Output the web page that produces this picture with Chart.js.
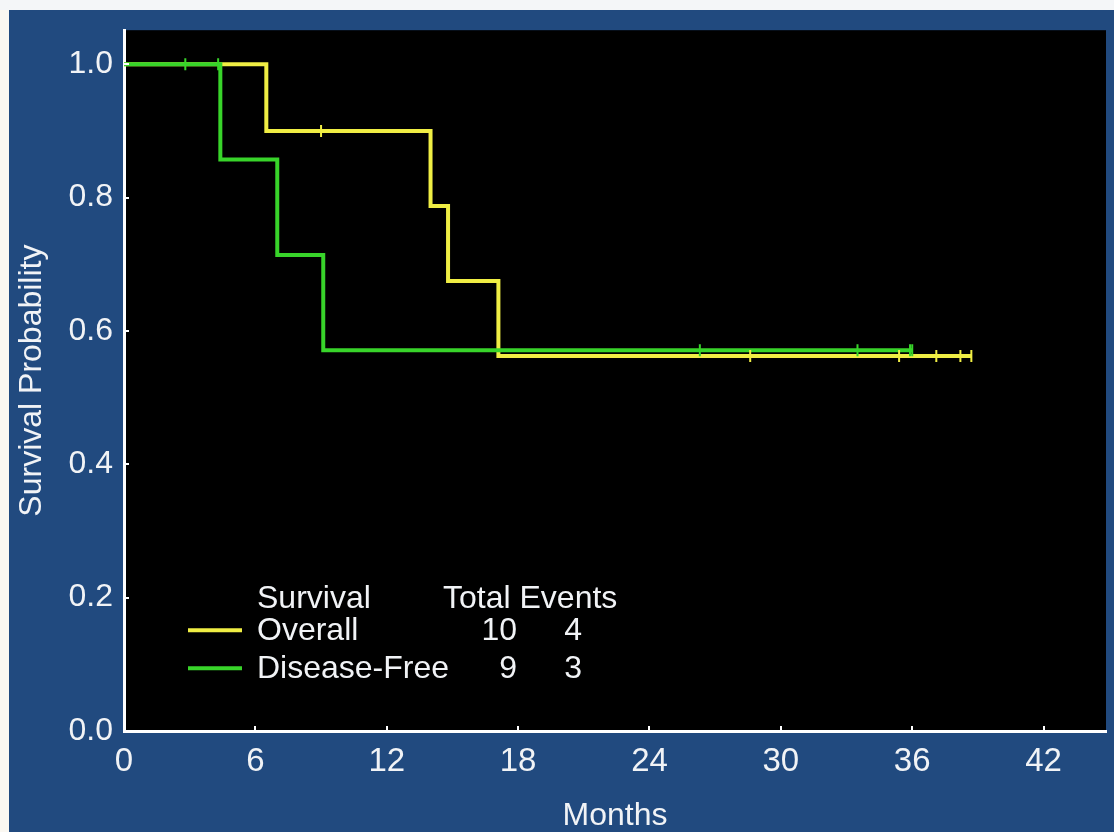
<!DOCTYPE html>
<html>
<head>
<meta charset="utf-8">
<title>Survival Probability</title>
<script src="https://cdn.jsdelivr.net/npm/chart.js@4.4.1/dist/chart.umd.min.js"></script>
<style>
  html, body { margin: 0; padding: 0; background: #fbf8f2; }
  canvas { display: block; }
</style>
</head>
<body>
<canvas id="km" width="1114" height="832"></canvas>
<script>
// Kaplan-Meier step data (months, survival probability after each event)
const overallTimes    = [0, 6.5, 14.0, 14.8, 17.1, 38.7];
const overallSurvival = [1.0, 0.9, 0.7875, 0.675, 0.5625, 0.5625];
const overallCensored = [9.0, 28.6, 35.4, 37.1, 38.2, 38.7];

const dfsTimes    = [0, 4.4, 7.0, 9.1, 36.0];
const dfsSurvival = [1.0, 0.857, 0.714, 0.571, 0.571];
const dfsCensored = [2.8, 4.3, 26.3, 33.5, 35.9, 36.0];

const xTickValues = [0, 6, 12, 18, 24, 30, 36, 42];
const yTickValues = [0, 0.2, 0.4, 0.6, 0.8, 1.0];

const legendHeaders = ['Survival', 'Total Events'];
const seriesNames   = ['Overall', 'Disease-Free'];
const seriesTotals  = [10, 9];
const seriesEvents  = [4, 3];

const YELLOW = '#f0ee44';
const GREEN  = '#38d42a';
const TEXT   = '#f1f3f6';
const FONT   = '"Liberation Sans", Arial, sans-serif';

const toPoints = (xs, ys) => xs.map((x, i) => ({ x, y: ys[i] }));

// survival value in effect at time t (last step at or before t)
function stepValue(xs, ys, t) {
  let v = ys[0];
  for (let i = 0; i < xs.length; i++) if (xs[i] <= t) v = ys[i];
  return v;
}
const censorPoints = (cs, xs, ys) => cs.map(t => ({ x: t, y: stepValue(xs, ys, t) }));

const panelBackground = {
  id: 'panelBackground',
  beforeDraw(chart) {
    const { ctx, width, height, chartArea: a } = chart;
    ctx.save();
    ctx.fillStyle = '#fbf8f2';
    ctx.fillRect(0, 0, width, height);
    ctx.fillStyle = '#f4f6f8';
    ctx.fillRect(0, 0, width, 10);
    ctx.fillStyle = '#214a7f';
    ctx.fillRect(9, 10, width - 9, height - 10);
    ctx.fillStyle = '#000000';
    ctx.fillRect(a.left, a.top, a.right - a.left, a.bottom - a.top);
    ctx.restore();
  }
};

const innerTicks = {
  id: 'innerTicks',
  afterDraw(chart) {
    const { ctx, chartArea: a, scales: { x, y } } = chart;
    ctx.save();
    ctx.strokeStyle = '#ffffff';
    ctx.lineWidth = 2;
    ctx.beginPath();
    xTickValues.forEach(v => {
      const px = Math.round(x.getPixelForValue(v));
      ctx.moveTo(px, a.bottom);
      ctx.lineTo(px, a.bottom - 5);
    });
    yTickValues.forEach(v => {
      const py = Math.round(y.getPixelForValue(v));
      ctx.moveTo(a.left, py);
      ctx.lineTo(a.left + 5, py);
    });
    ctx.stroke();
    ctx.restore();
  }
};

const tableLegend = {
  id: 'tableLegend',
  afterDraw(chart) {
    const { ctx, chartArea: a } = chart;
    const colors = [YELLOW, GREEN];
    const nameX = a.left + 133;
    const totalX = a.left + 393;
    const eventX = a.left + 458;
    const lineX0 = a.left + 64, lineX1 = a.left + 118;
    const rows = [a.top + 610, a.top + 648];
    ctx.save();
    ctx.font = '32px ' + FONT;
    ctx.fillStyle = TEXT;
    ctx.textBaseline = 'alphabetic';
    ctx.textAlign = 'left';
    ctx.fillText(legendHeaders[0], nameX, a.top + 578);
    ctx.fillText(legendHeaders[1], a.left + 319, a.top + 578);
    seriesNames.forEach((name, i) => {
      const base = rows[i];
      ctx.textAlign = 'left';
      ctx.fillStyle = TEXT;
      ctx.fillText(name, nameX, base);
      ctx.textAlign = 'right';
      ctx.fillText(String(seriesTotals[i]), totalX, base);
      ctx.fillText(String(seriesEvents[i]), eventX, base);
      ctx.strokeStyle = colors[i];
      ctx.lineWidth = 4;
      ctx.beginPath();
      ctx.moveTo(lineX0, base - 10);
      ctx.lineTo(lineX1, base - 10);
      ctx.stroke();
    });
    ctx.restore();
  }
};

new Chart(document.getElementById('km'), {
  type: 'line',
  data: {
    datasets: [
      {
        label: 'Disease-Free censored',
        data: censorPoints(dfsCensored, dfsTimes, dfsSurvival),
        showLine: false,
        pointStyle: 'line',
        rotation: 90,
        pointRadius: 6,
        pointBorderWidth: 2,
        borderColor: GREEN,
        backgroundColor: GREEN,
        order: 0
      },
      {
        label: 'Overall censored',
        data: censorPoints(overallCensored, overallTimes, overallSurvival),
        showLine: false,
        pointStyle: 'line',
        rotation: 90,
        pointRadius: 6,
        pointBorderWidth: 2,
        borderColor: YELLOW,
        backgroundColor: YELLOW,
        order: 1
      },
      {
        label: seriesNames[1],
        data: toPoints(dfsTimes, dfsSurvival),
        stepped: 'before',
        borderColor: GREEN,
        borderWidth: 4,
        pointRadius: 0,
        fill: false,
        order: 2
      },
      {
        label: seriesNames[0],
        data: toPoints(overallTimes, overallSurvival),
        stepped: 'before',
        borderColor: YELLOW,
        borderWidth: 4,
        pointRadius: 0,
        fill: false,
        order: 3
      }
    ]
  },
  options: {
    responsive: false,
    animation: false,
    layout: { padding: { left: 0, top: 29, right: 4, bottom: 0 } },
    plugins: {
      legend: { display: false },
      tooltip: { enabled: false }
    },
    scales: {
      x: {
        type: 'linear',
        min: 0,
        max: 44.85,
        afterBuildTicks: s => { s.ticks = xTickValues.map(v => ({ value: v })); },
        afterFit: s => { s.height = 101; },
        grid: { display: true, drawOnChartArea: false, drawTicks: false },
        border: { display: true, color: '#ffffff', width: 3 },
        ticks: {
          color: TEXT,
          padding: 11,
          maxRotation: 0,
          autoSkip: false,
          font: { family: FONT, size: 33 }
        },
        title: {
          display: true,
          text: 'Months',
          color: TEXT,
          padding: { top: 0, bottom: 0 },
          font: { family: FONT, size: 32, lineHeight: 1 }
        }
      },
      y: {
        type: 'linear',
        min: 0,
        max: 1.051,
        afterBuildTicks: s => { s.ticks = yTickValues.map(v => ({ value: v })); },
        afterFit: s => { s.width = 124; },
        grid: { display: true, drawOnChartArea: false, drawTicks: false },
        border: { display: true, color: '#ffffff', width: 3 },
        ticks: {
          color: TEXT,
          padding: 11,
          autoSkip: false,
          callback: v => Number(v).toFixed(1),
          font: { family: FONT, size: 32 }
        },
        title: {
          display: true,
          text: 'Survival Probability',
          color: TEXT,
          padding: { top: 16, bottom: 0 },
          font: { family: FONT, size: 32, lineHeight: 1 }
        }
      }
    }
  },
  plugins: [panelBackground, innerTicks, tableLegend]
});
</script>
</body>
</html>
